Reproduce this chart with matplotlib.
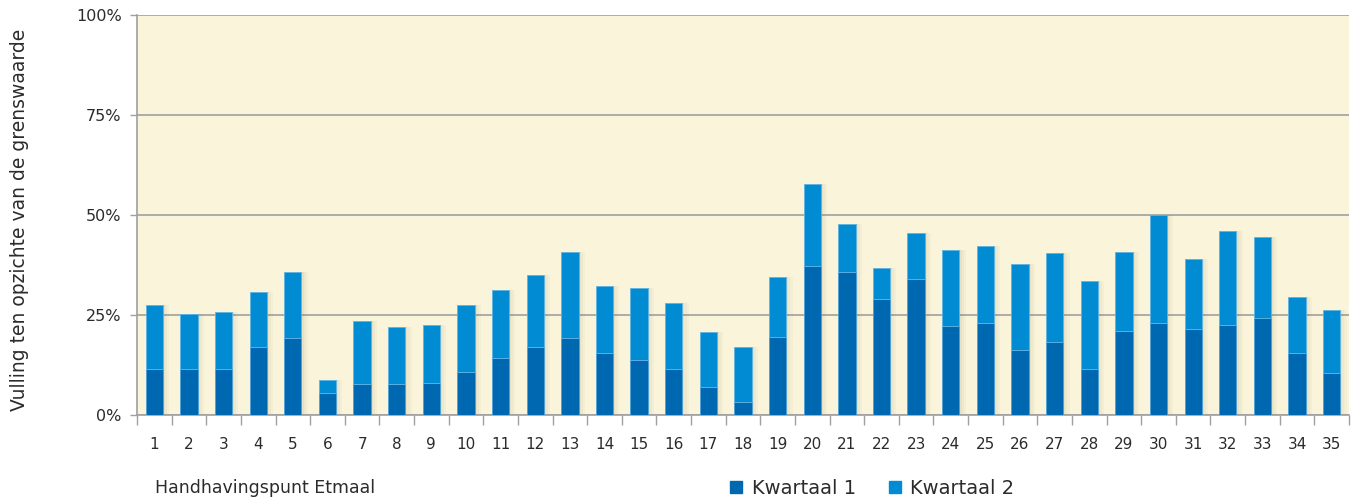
import matplotlib
matplotlib.use("Agg")
import matplotlib.pyplot as plt
from matplotlib.lines import Line2D
import numpy as np

categories = [str(i) for i in range(1, 36)]
kwartaal1 = [11.4, 11.4, 11.4, 17.0, 19.2, 5.4, 7.7, 7.7, 8.1, 10.8,
             14.2, 17.0, 19.2, 15.4, 13.7, 11.4, 7.1, 3.3, 19.6, 37.3,
             35.7, 29.1, 33.9, 22.3, 23.0, 16.3, 18.2, 11.4, 20.9, 23.1,
             21.4, 22.4, 24.2, 15.4, 10.4]
totaal = [27.4, 25.2, 25.7, 30.7, 35.7, 8.7, 23.6, 22.0, 22.5, 27.4,
          31.2, 35.1, 40.7, 32.3, 31.7, 27.9, 20.8, 17.0, 34.5, 57.7,
          47.7, 36.7, 45.6, 41.2, 42.2, 37.8, 40.6, 33.5, 40.7, 49.9,
          38.9, 46.1, 44.4, 29.6, 26.3]
kwartaal2 = [round(t - q, 1) for t, q in zip(totaal, kwartaal1)]
yticks = [0, 25, 50, 75, 100]
ytick_labels = ["0%", "25%", "50%", "75%", "100%"]

c1 = "#0068B1"
c2 = "#008BD2"
txt = "#2b2b2b"

W, H = 1363, 504
fig = plt.figure(figsize=(W / 100, H / 100), dpi=100)
ax = fig.add_axes([137 / W, 1 - 415 / H, (1349 - 137) / W, 400 / H])
ax.set_facecolor("#F9F4DA")

x = np.arange(len(categories))
bw = 0.5
# soft shadows
for dx, a in [(0.06, 0.05), (0.12, 0.04), (0.18, 0.03)]:
    ax.bar(x + dx, totaal, bw, color="#6b5a2a", alpha=a, zorder=1.5, linewidth=0)
ax.bar(x, kwartaal1, bw, color=c1, zorder=3, edgecolor="#4f9fd6", linewidth=0.6)
ax.bar(x, kwartaal2, bw, bottom=kwartaal1, color=c2, zorder=3,
       edgecolor="#5fb4e4", linewidth=0.6)

ax.set_xlim(-0.5, len(categories) - 0.5)
ax.set_ylim(0, 100)
ax.set_yticks(yticks)
ax.set_yticklabels(ytick_labels)
ax.yaxis.grid(True, color="#a0a0a0", linewidth=1.2, zorder=1)
ax.set_axisbelow(True)

ax.set_xticks(x)
ax.set_xticklabels(categories)
ax.set_xticks(np.arange(-0.5, len(categories)), minor=True)
ax.tick_params(axis="x", which="major", length=0, pad=16, labelsize=11, labelcolor=txt)
ax.tick_params(axis="x", which="minor", length=7, color="#a0a0a0", width=1)
ax.tick_params(axis="y", length=5, color="#a0a0a0", width=1, labelsize=11.5,
               labelcolor=txt, pad=6)

for s in ["top", "right"]:
    ax.spines[s].set_visible(False)
for s in ["left", "bottom"]:
    ax.spines[s].set_color("#a0a0a0")
    ax.spines[s].set_linewidth(1.2)

fig.text(20 / W, 1 - 220 / H, "Vulling ten opzichte van de grenswaarde",
         rotation=90, ha="center", va="center", fontsize=13.5, color=txt)
fig.text(155 / W, 1 - 488 / H, "Handhavingspunt Etmaal", ha="left",
         va="center", fontsize=12.5, color=txt)

handles = [Line2D([], [], marker="s", linestyle="none", markersize=9, color=c1),
           Line2D([], [], marker="s", linestyle="none", markersize=9, color=c2)]
fig.legend(handles, ["Kwartaal 1", "Kwartaal 2"], loc="center left",
           bbox_to_anchor=(709 / W, 1 - 488 / H), ncol=2, frameon=False,
           fontsize=14, handletextpad=0.3, columnspacing=1.5, handlelength=1.0,
           labelcolor=txt)

fig.savefig("out.png", dpi=100, facecolor="white")
